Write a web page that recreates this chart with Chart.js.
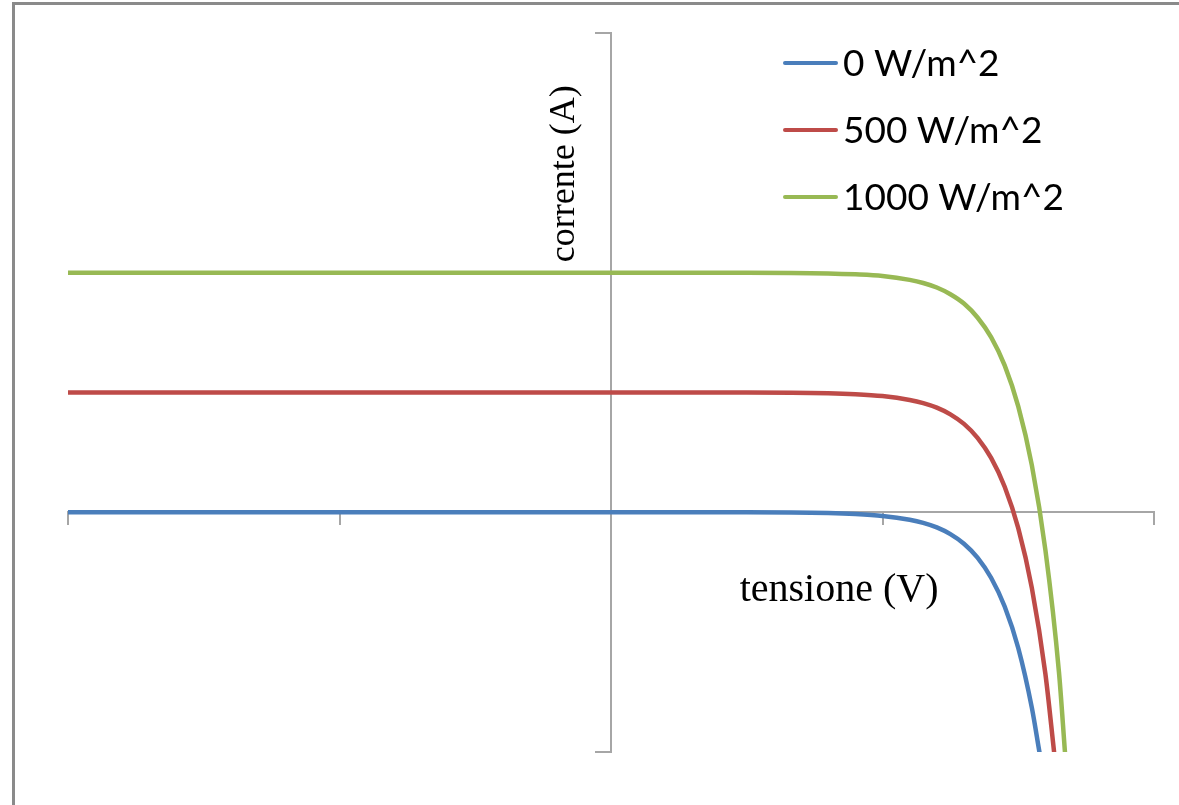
<!DOCTYPE html>
<html>
<head>
<meta charset="utf-8">
<title>Curva I-V</title>
<script src="https://cdn.jsdelivr.net/npm/chart.js@4.4.1/dist/chart.umd.min.js"></script>
<style>
  body { margin: 0; background: #fff; overflow: hidden; }
  #frame {
    position: absolute; left: 12px; top: 2px; width: 1300px; height: 900px;
    border-top: 3px solid #8a8a8a; border-left: 3px solid #8a8a8a;
  }
  canvas { position: absolute; left: 0; top: 0; }
</style>
</head>
<body>
<div id="frame"></div>
<canvas id="iv" width="1179" height="805"></canvas>
<script>
// valori (tensione in V, corrente in A)
const labels = ['0 W/m^2', '500 W/m^2', '1000 W/m^2'];
const colors = ['#4a7ebb', '#be4b48', '#98b954'];

const tension0 = [-2, -1, 0, 0.5, 0.8, 0.9, 1.0, 1.1, 1.15, 1.2, 1.25, 1.3, 1.35, 1.4, 1.45, 1.5, 1.55, 1.578];
const current0 = [0, 0, 0, 0, -0.003, -0.007, -0.015, -0.031, -0.044, -0.063, -0.091, -0.131, -0.189, -0.273, -0.393, -0.566, -0.815, -1];

const tension500 = [-2, -1, 0, 0.5, 0.8, 0.9, 1.0, 1.1, 1.15, 1.2, 1.25, 1.3, 1.35, 1.4, 1.45, 1.5, 1.55, 1.6, 1.632];
const current500 = [0.5, 0.5, 0.5, 0.5, 0.497, 0.493, 0.485, 0.469, 0.456, 0.437, 0.409, 0.369, 0.311, 0.227, 0.107, -0.066, -0.315, -0.674, -1];

const tension1000 = [-2, -1, 0, 0.5, 0.8, 0.9, 1.0, 1.1, 1.15, 1.2, 1.25, 1.3, 1.35, 1.4, 1.45, 1.5, 1.55, 1.6, 1.65, 1.672];
const current1000 = [1, 1, 1, 1, 0.997, 0.993, 0.986, 0.97, 0.957, 0.938, 0.91, 0.871, 0.813, 0.731, 0.613, 0.442, 0.197, -0.157, -0.667, -1];

const xTitle = 'tensione (V)';
const yTitle = 'corrente (A)';

const axisGrey = '#a6a6a6';

const points = (xs, ys) => xs.map((x, i) => ({ x: x, y: ys[i] }));
const series = [points(tension0, current0), points(tension500, current500), points(tension1000, current1000)];

const legendBox = {
  id: 'legendBox',
  afterDraw(chart) {
    const { ctx } = chart;
    ctx.save();
    ctx.font = '37px Lato';
    ctx.textBaseline = 'middle';
    chart.data.datasets.forEach((ds, i) => {
      const y = 63 + i * 67;
      ctx.strokeStyle = ds.borderColor;
      ctx.lineWidth = 4;
      ctx.lineCap = 'round';
      ctx.beginPath();
      ctx.moveTo(785, y);
      ctx.lineTo(836, y);
      ctx.stroke();
      ctx.fillStyle = '#000';
      ctx.fillText(ds.label, 843, y + 1);
    });
    ctx.restore();
  }
};

const axisCaptions = {
  id: 'axisCaptions',
  afterDraw(chart) {
    const { ctx } = chart;
    const xs = chart.scales.x, ys = chart.scales.y;
    ctx.save();
    ctx.fillStyle = '#000';
    ctx.textAlign = 'center';
    ctx.textBaseline = 'middle';
    ctx.font = '40px "Liberation Serif", serif';
    ctx.fillText(xTitle, xs.getPixelForValue(0.84), ys.getPixelForValue(-0.325));
    ctx.translate(xs.getPixelForValue(-0.17), ys.getPixelForValue(1.4125));
    ctx.rotate(-Math.PI / 2);
    ctx.font = '36px "Liberation Serif", serif';
    ctx.fillText(yTitle, 0, 0);
    ctx.restore();
  }
};

new Chart(document.getElementById('iv'), {
  type: 'line',
  data: {
    datasets: series.map((data, i) => ({
      label: labels[i],
      data: data,
      borderColor: colors[i],
      backgroundColor: colors[i],
      borderWidth: 4.5,
      borderCapStyle: 'round',
      borderJoinStyle: 'round',
      pointRadius: 0,
      fill: false,
      cubicInterpolationMode: 'monotone'
    }))
  },
  options: {
    responsive: false,
    animation: false,
    devicePixelRatio: 1,
    layout: { padding: { left: 68, right: 25, top: 33, bottom: 53 } },
    plugins: {
      legend: { display: false },
      tooltip: { enabled: false }
    },
    scales: {
      x: {
        type: 'linear',
        min: -2,
        max: 2,
        position: { y: 0 },
        ticks: { stepSize: 1, display: false },
        grid: { drawOnChartArea: false, drawTicks: true, tickLength: 12, color: axisGrey, lineWidth: 2 },
        border: { color: axisGrey, width: 2 }
      },
      y: {
        type: 'linear',
        min: -1,
        max: 2,
        position: { x: 0 },
        ticks: { stepSize: 3, display: false },
        grid: { drawOnChartArea: false, drawTicks: true, tickLength: 15, color: axisGrey, lineWidth: 2 },
        border: { color: axisGrey, width: 2 }
      }
    }
  },
  plugins: [legendBox, axisCaptions]
});
</script>
</body>
</html>
